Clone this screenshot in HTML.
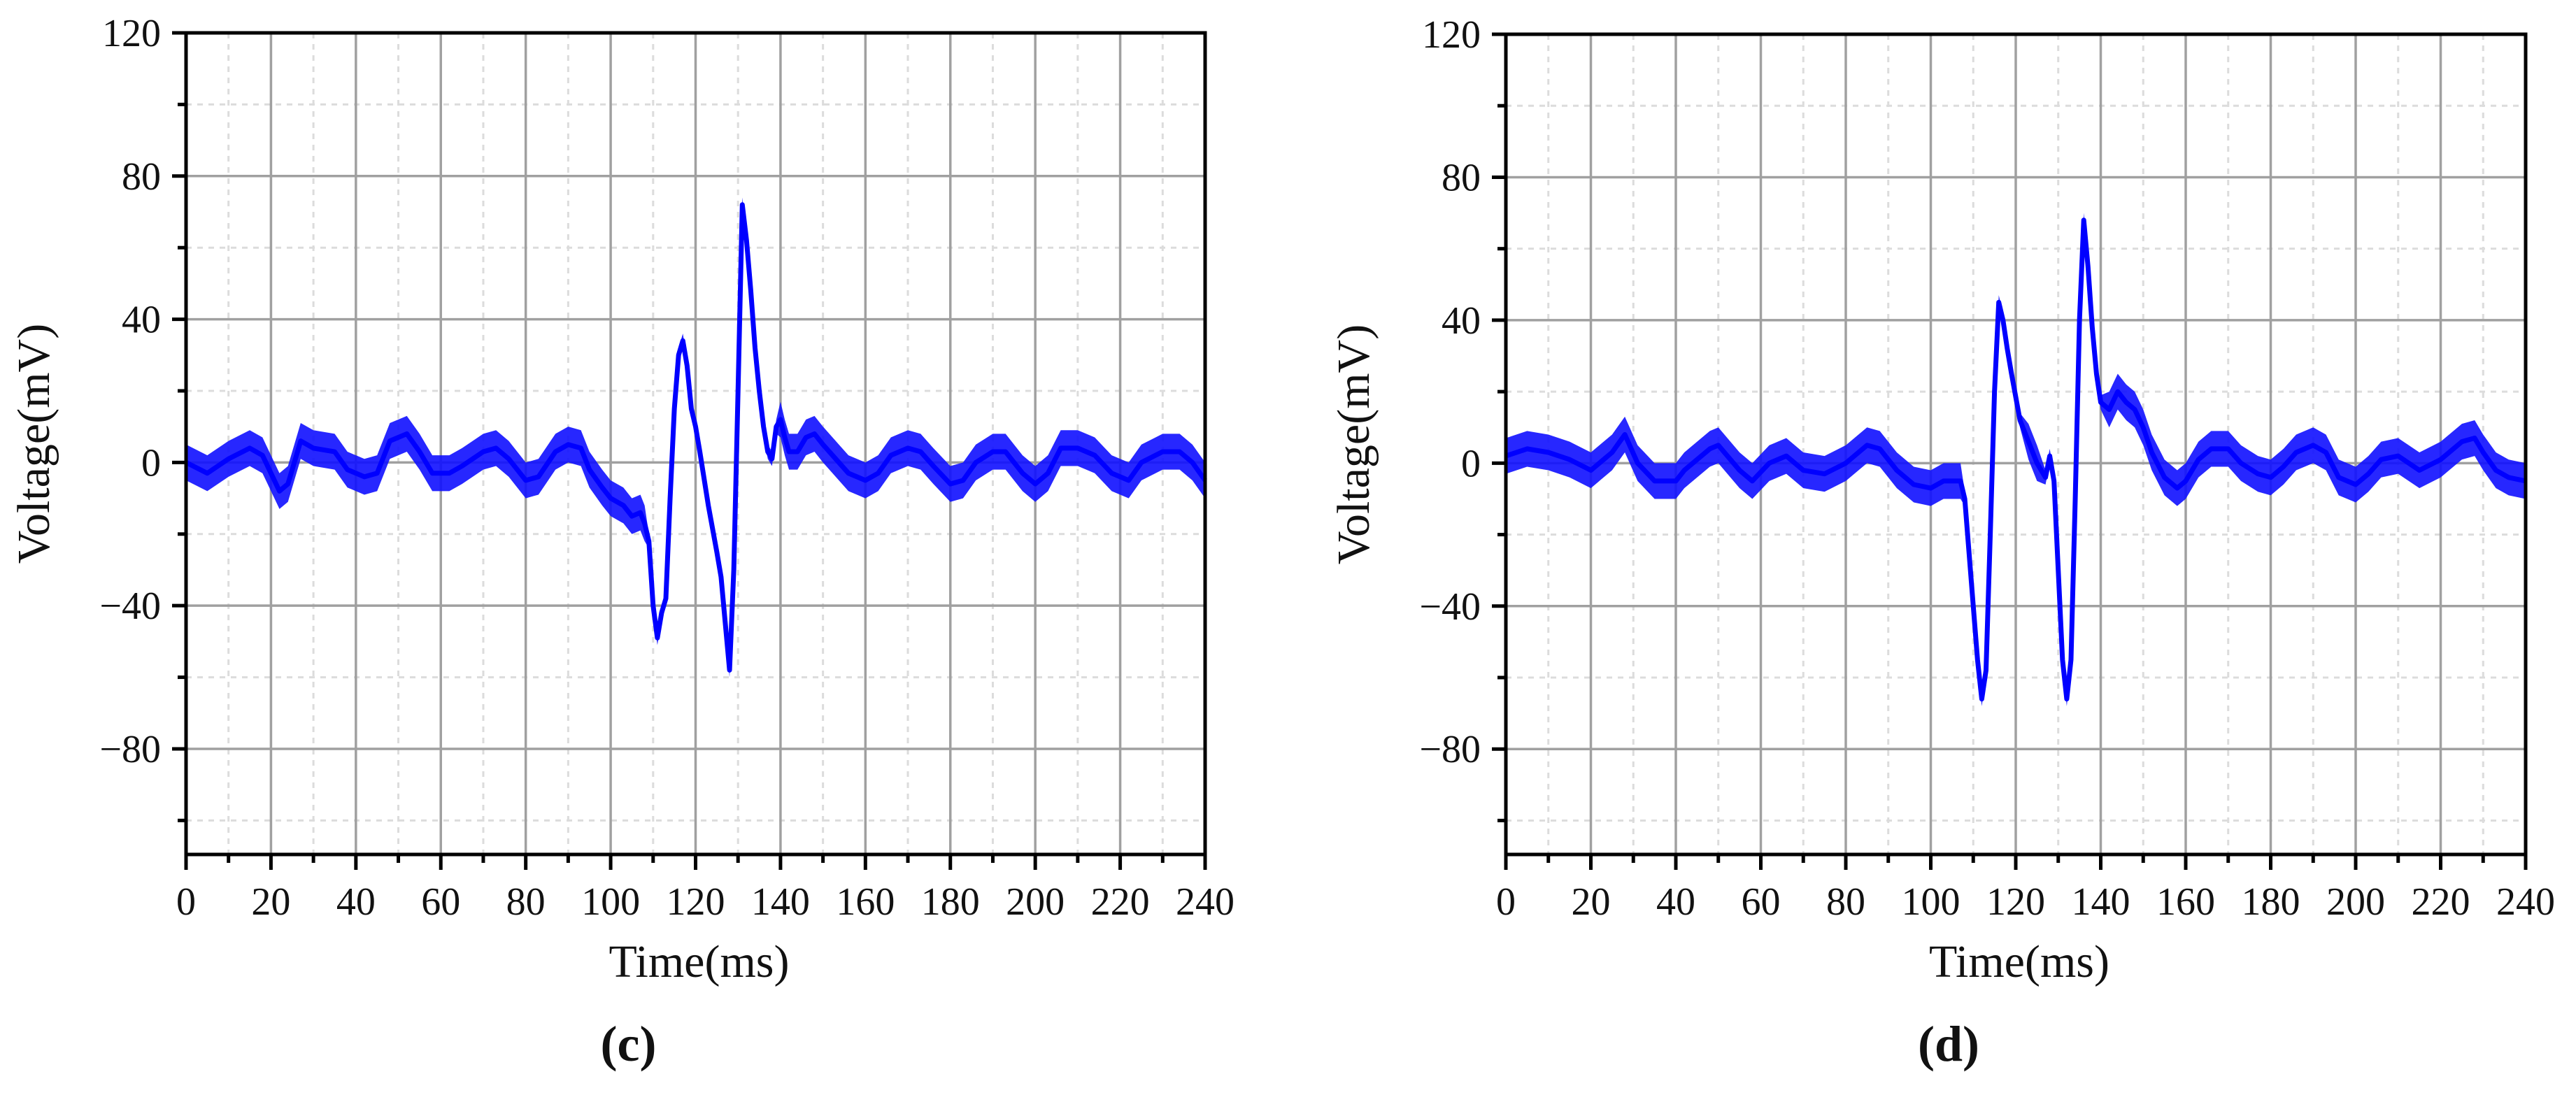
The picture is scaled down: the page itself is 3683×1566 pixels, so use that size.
<!DOCTYPE html>
<html><head><meta charset="utf-8">
<style>
html,body{margin:0;padding:0;background:#fff;}
svg{display:block;}
text{font-family:"Liberation Serif",serif;fill:#111;}
</style></head>
<body>
<svg id="fig" width="3683" height="1566" viewBox="0 0 3683 1566" xmlns="http://www.w3.org/2000/svg"></svg>
<script>
// ---- data (c) ----
const timesC = [0,5,10,15,18,22,24,27,30,35,38,42,45,48,52,55,58,62,65,70,73,76,80,83,87,90,93,95,98,100,103,105,107,108,109,110,111,112,113,114,115,116,117,118,119,120,121,123,125,126,127,128,129,130,131,132,133,134,135,136,137,138,139,140,141,142,144,146,148,150,153,156,160,163,166,170,173,176,180,183,186,190,193,197,200,203,206,210,214,218,222,225,230,234,237,240];
const valuesC = [0,-3,1,4,2,-8,-6,6,4,3,-2,-4,-3,6,8,3,-3,-3,-1,3,4,1,-5,-4,3,5,4,-2,-7,-10,-12,-15,-14,-17,-22,-40,-49,-42,-38,-10,15,30,34,27,15,10,3,-12,-25,-32,-45,-58,-30,20,72,62,48,32,20,10,3,1,10,12,7,3,3,7,8,5,1,-3,-5,-3,2,4,3,-1,-6,-5,0,3,3,-3,-6,-3,4,4,2,-3,-5,0,3,3,0,-5];
// ---- data (d) ----
const timesD = [0,5,10,15,20,25,28,31,35,40,42,48,50,55,58,62,66,70,75,80,85,88,92,96,100,103,107,108,110,111,112,113,114,115,116,117,118,119,121,123,125,127,128,129,130,131,132,133,134,135,136,137,138,139,140,142,144,146,148,150,152,155,158,160,163,166,170,173,177,180,183,186,190,193,196,200,203,206,210,215,220,225,228,230,233,236,240];
const valuesD = [2,4,3,1,-2,3,8,0,-5,-5,-2,4,5,-2,-5,0,2,-2,-3,0,5,4,-2,-6,-7,-5,-5,-10,-40,-55,-66,-58,-20,20,45,40,32,25,12,6,0,-4,2,-5,-30,-55,-66,-55,-10,40,68,55,38,25,17,15,20,17,15,10,3,-4,-7,-5,1,4,4,0,-3,-4,-1,3,5,3,-4,-6,-3,1,2,-2,1,6,7,3,-2,-4,-5];
const xTicks = [0,20,40,60,80,100,120,140,160,180,200,220,240];
const yTicks = [120,80,40,0,-40,-80];
const panelLabels = ["(c)","(d)"];

const NS = "http://www.w3.org/2000/svg";
const svg = document.getElementById('fig');
function mk(tag, attrs, parent){const e=document.createElementNS(NS,tag);for(const k in attrs)e.setAttribute(k,attrs[k]);(parent||svg).appendChild(e);return e;}

function drawPanel(px0, px1, top, bottom, times, values, label, idx){
  const g = mk('g',{});
  
  
  const ymin=-109.5, ymax=120;
  const X = t => px0 + (t/240)*(px1-px0);
  const Y = v => top + (ymax-v)/(ymax-ymin)*(bottom-top);
  for(let t=10;t<240;t+=20){
    const l=mk('line',{x1:X(t),x2:X(t),y1:top,y2:bottom,stroke:'#dcdcdc','stroke-width':3,'stroke-dasharray':'8 8'},g);
    
    
  }
  for(let v=100;v>-110;v-=40){
    const l=mk('line',{x1:px0,x2:px1,y1:Y(v),y2:Y(v),stroke:'#dcdcdc','stroke-width':3,'stroke-dasharray':'8 8'},g);
    
    
  }
  xTicks.forEach(t=>{ if(t>0&&t<240){
    const l=mk('line',{x1:X(t),x2:X(t),y1:top,y2:bottom,stroke:'#a0a0a0','stroke-width':3.5},g);
    
    
  }});
  yTicks.forEach(v=>{ if(v<120){
    const l=mk('line',{x1:px0,x2:px1,y1:Y(v),y2:Y(v),stroke:'#a0a0a0','stroke-width':3.5},g);
    
    
  }});
  const up=[], lo=[];
  for(let i=0;i<times.length;i++){
    const a=i>0?Math.abs((values[i]-values[i-1])/(times[i]-times[i-1])):0;
    const b=i<times.length-1?Math.abs((values[i+1]-values[i])/(times[i+1]-times[i])):0;
    const w=Math.max(a,b)>5?2:5;
    up.push(X(times[i])+','+Y(values[i]+w));
    lo.push(X(times[i])+','+Y(values[i]-w));
  }
  const band=mk('polygon',{points:up.concat(lo.reverse()).join(' '),fill:'#1010ff','fill-opacity':0.9,stroke:'none'},g);
  
  
  const pts=times.map((t,i)=>X(t)+','+Y(values[i])).join(' ');
  const line=mk('polyline',{points:pts,fill:'none',stroke:'#0000ff','stroke-width':7,'stroke-linejoin':'round'},g);
  
  
  const fr=mk('rect',{x:px0,y:top,width:px1-px0,height:bottom-top,fill:'none',stroke:'#000','stroke-width':5},g);
  
  
  for(let t=0;t<=240;t+=10){
    const major=t%20===0;
    const tk=mk('line',{x1:X(t),x2:X(t),y1:bottom,y2:bottom+(major?22:12),stroke:'#000','stroke-width':5},g);
    
    
  }
  xTicks.forEach(t=>{
    const tx=mk('text',{x:X(t),y:1308,'text-anchor':'middle','font-size':56},g);
    tx.textContent=t;
    
    
  });
  for(let v=120;v>=-100;v-=20){
    const major=v%40===0;
    const tk=mk('line',{x1:px0-(major?20:12),x2:px0,y1:Y(v),y2:Y(v),stroke:'#000','stroke-width':5},g);
    
    
  }
  yTicks.forEach(v=>{
    const tx=mk('text',{x:px0-36,y:Y(v)+19,'text-anchor':'end','font-size':56},g);
    tx.textContent=v<0?'\u2212'+(-v):String(v);
    
    
  });
  const yt=mk('text',{x:0,y:0,'text-anchor':'middle','font-size':66,transform:`translate(${px0-196},${(top+bottom)/2}) rotate(-90)`},g);
  yt.textContent='Voltage(mV)';
  
  
  const xt=mk('text',{x:(px0+px1)/2+5,y:1397,'text-anchor':'middle','font-size':66},g);
  xt.textContent='Time(ms)';
  
  
  const pl=mk('text',{x:(px0+px1)/2-96,y:1517,'text-anchor':'middle','font-size':72,'font-weight':'bold'},g);
  pl.textContent=label;
  
  
}
drawPanel(266,1723,47,1222,timesC,valuesC,panelLabels[0],0);
drawPanel(2153,3611,49,1222,timesD,valuesD,panelLabels[1],1);
</script>
</body></html>
